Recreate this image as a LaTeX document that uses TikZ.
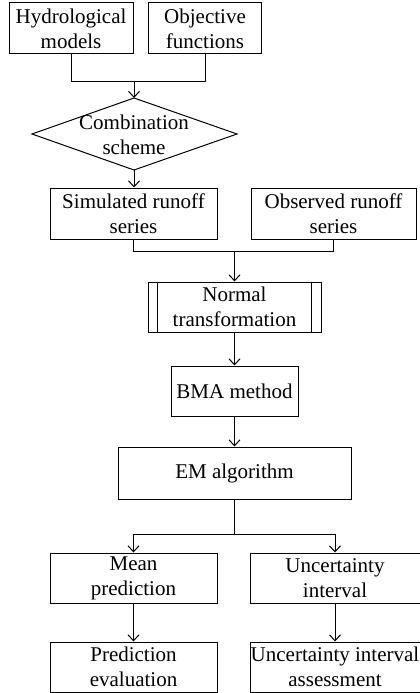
\documentclass[tikz,border=0pt]{standalone}
\usepackage{fontspec}
\setmainfont{Liberation Serif}
\usetikzlibrary{arrows.meta}
\begin{document}
\begin{tikzpicture}[x=1pt,y=-1pt,
  box/.style={draw, line width=1pt, rectangle, align=center, inner sep=0pt,
    font=\fontsize{21}{25}\selectfont},
  lbl/.style={align=center, inner sep=0pt, font=\fontsize{21}{25}\selectfont},
  line/.style={draw, line width=1pt},
  arr/.style={line, -{Straight Barb[length=6pt,width=11pt,line width=1pt]}}]
\useasboundingbox (0,0) rectangle (420,693);
% nodes
\node[box, minimum width=124pt, minimum height=51pt] (hyd) at (71,28.5) {Hydrological\\models};
\node[box, minimum width=113pt, minimum height=51pt] (obj) at (205,28.5) {Objective\\functions};
\draw[line width=1pt] (32,134) -- (134,98) -- (237,134) -- (134,170) -- cycle;
\coordinate (combN) at (134,98);
\coordinate (combS) at (134,170);
\node[lbl] (comb) at (134,135) {Combination\\scheme};
\node[box, minimum width=167pt, minimum height=51pt] (sim) at (133.5,213.5) {Simulated runoff\\series};
\node[box, minimum width=165pt, minimum height=51pt] (obs) at (333.5,213.5) {Observed runoff\\series};
\node[box, minimum width=173pt, minimum height=50pt] (norm) at (234.5,307) {Normal\\transformation};
\draw[line width=1pt] ([xshift=10pt]norm.north west) -- ([xshift=10pt]norm.south west);
\draw[line width=1pt] ([xshift=-10pt]norm.north east) -- ([xshift=-10pt]norm.south east);
\node[box, minimum width=127pt, minimum height=50pt] (bma) at (234.5,391) {BMA method};
\node[box, minimum width=233pt, minimum height=52pt] (em) at (234.5,473) {EM algorithm};
\node[box, minimum width=167pt, minimum height=50pt] (mean) at (133.5,578) {Mean\\prediction};
\node[box, minimum width=170pt, minimum height=50pt] (unc) at (335,578) {Uncertainty\\interval};
\node[box, minimum width=167pt, minimum height=50pt] (pred) at (133.5,667) {Prediction\\evaluation};
\node[box, minimum width=170pt, minimum height=50pt] (ass) at (335,667) {Uncertainty interval\\assessment};
% connectors
\coordinate (j1) at (134,81);
\draw[line] (hyd.south) -- (hyd.south |- j1) -- (obj.south |- j1) -- (obj.south);
\draw[arr] (j1) -- (combN);
\draw[arr] (combS) -- (sim.north -| combS);
\coordinate (j2) at (234.5,251);
\draw[line] (sim.south) -- (sim.south |- j2) -- (obs.south |- j2) -- (obs.south);
\draw[arr] (j2) -- (norm.north);
\draw[arr] (norm.south) -- (bma.north);
\draw[arr] (bma.south) -- (em.north);
\coordinate (j3) at (234.5,534);
\draw[line] (em.south) -- (j3);
\draw[arr] (j3) -- (mean.north |- j3) -- (mean.north);
\draw[arr] (j3) -- (unc.north |- j3) -- (unc.north);
\draw[arr] (mean.south) -- (pred.north);
\draw[arr] (unc.south) -- (ass.north);
\end{tikzpicture}
\end{document}
